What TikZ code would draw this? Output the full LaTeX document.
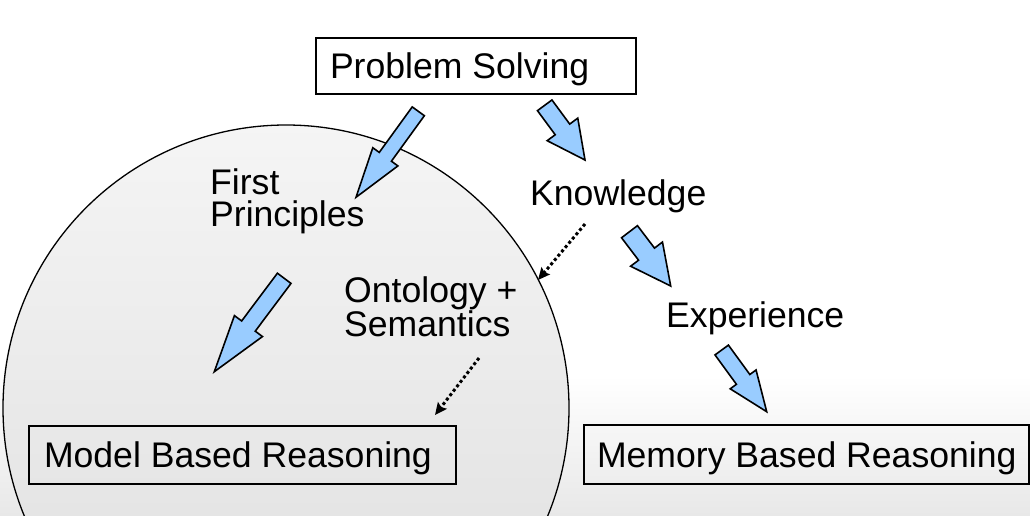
\documentclass[tikz,border=0pt]{standalone}
\usepackage{fontspec}
\setmainfont{Liberation Sans}
\usetikzlibrary{calc,arrows.meta}
\definecolor{arrowblue}{RGB}{153,204,255}
\tikzset{
  boxnode/.style={draw=black, line width=2pt, anchor=north west,
    text height=25pt, text depth=0pt, inner ysep=0pt},
  label/.style={inner sep=0pt, align=left},
  blockarrow/.style={fill=arrowblue, draw=black, line width=1.6pt, line join=miter},
  dotarrow/.style={line width=3pt, dash pattern=on 3pt off 2.6pt,
    -{Stealth[length=12pt,width=11pt,inset=2pt]}}
}
\newcommand\blockarr[5]{%
  \path ($(#2)!#5!(#1)$) coordinate (hb);
  \draw[blockarrow] ($(#1)!#3!90:(#2)$) -- ($(hb)!#3!90:(#2)$) -- ($(hb)!#4!90:(#2)$)
    -- (#2) -- ($(hb)!#4!-90:(#2)$) -- ($(hb)!#3!-90:(#2)$) -- ($(#1)!#3!-90:(#2)$) -- cycle;
}
\begin{document}
\begin{tikzpicture}[x=1pt,y=-1pt, font=\fontsize{35.6}{32}\selectfont]
\useasboundingbox (0,0) rectangle (1030,515);
% background
\fill[white] (0,0) rectangle (1030,515);
\shade[top color=white, bottom color=black!9] (0,375) rectangle (1030,515);
% big circle
\shade[top color=black!4, bottom color=black!13] (286,408) circle[radius=283];
\draw[line width=1.3pt] (286,408) circle[radius=283];

% boxes
\node[boxnode, inner xsep=14pt, minimum height=56pt] (ps) at (315,37) {\makebox[292pt][l]{Problem Solving}};
\node[boxnode, inner xsep=15pt, minimum height=58pt] (mbr) at (28,425) {\makebox[397pt][l]{Model Based Reasoning}};
\node[boxnode, inner xsep=13pt, minimum height=59pt] (mem) at (583,424) {\makebox[419pt][l]{Memory Based Reasoning}};

% labels
\node[label, anchor=north west] (fp) at (210,168) {First\\Principles};
\node[label, anchor=north west] (onto) at (344,276) {Ontology +\\Semantics};
\node[label, anchor=base west] (know) at (530,205) {Knowledge};
\node[label, anchor=base west] (exp) at (666,327) {Experience};

% block arrows
\coordinate (a1t) at (418.3,111.3); \coordinate (a1h) at (356,197.3);
\coordinate (a2t) at (544.7,105.3); \coordinate (a2h) at (585,160);
\coordinate (a3t) at (284.2,278.3); \coordinate (a3h) at (214.3,371.7);
\coordinate (a4t) at (629.5,231.7); \coordinate (a4h) at (670.7,286);
\coordinate (a5t) at (721.7,350);   \coordinate (a5h) at (766.7,411.7);
\blockarr{a1t}{a1h}{7.5pt}{15.5pt}{50pt}
\blockarr{a2t}{a2h}{9pt}{19pt}{38pt}
\blockarr{a3t}{a3h}{8.5pt}{17.5pt}{57pt}
\blockarr{a4t}{a4h}{10pt}{20pt}{40pt}
\blockarr{a5t}{a5h}{8.3pt}{16pt}{40pt}

% dotted arrows
\coordinate (d1s) at (585,224); \coordinate (d1e) at (538,280);
\coordinate (d2s) at (479,358); \coordinate (d2e) at (435,415);
\draw[dotarrow] (d1s) -- (d1e);
\draw[dotarrow] (d2s) -- (d2e);
\end{tikzpicture}
\end{document}
